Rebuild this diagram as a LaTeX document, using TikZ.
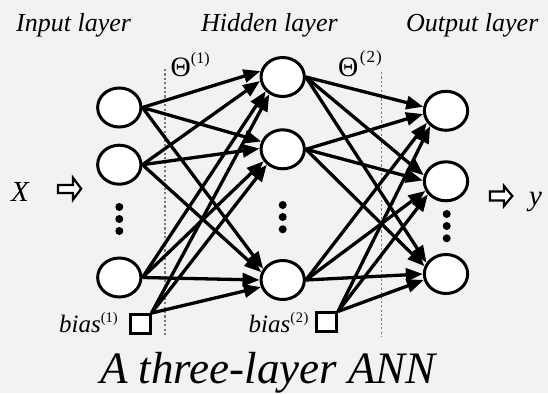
\documentclass[tikz,border=0pt]{standalone}
\usepackage{fontspec}
\setmainfont{Liberation Serif}
\usetikzlibrary{arrows.meta,shapes.geometric}
\definecolor{bg}{RGB}{242,242,242}
\definecolor{guide}{RGB}{120,120,120}

\begin{document}
\begin{tikzpicture}[x=1pt,y=-1pt,
  neuron/.style={ellipse,draw,fill=white,line width=3pt,minimum width=43.3pt,minimum height=39pt,inner sep=0pt},
  biasbox/.style={rectangle,draw,fill=white,line width=3pt,minimum width=20pt,minimum height=18.5pt,inner sep=0pt},
  wire/.style={line width=3.3pt,-{Triangle[length=17pt,width=13pt]}},
  guideline/.style={guide,line width=1.3pt,dash pattern=on 2.2pt off 2.2pt},
  dot/.style={circle,fill=black,inner sep=0pt,minimum size=8pt},
  hollow/.style={draw,line width=2.2pt,fill=white,line join=miter},
  lbl/.style={font=\fontsize{26}{26}\selectfont\itshape,anchor=base west,inner sep=0pt},
  sup/.style={anchor=base west,inner sep=0pt},
]
% canvas
\fill[bg] (0,0) rectangle (548,393);
\useasboundingbox (0,0) rectangle (548,393);

% layer titles
\node[lbl] (tin)  at (16,31.7)  {Input layer};
\node[lbl] (thid) at (201,31.7) {Hidden layer};
\node[lbl] (tout) at (406,31.7) {Output layer};

% weight separators
\draw[guideline] (165,69) -- (165,335);
\draw[guideline] (381.7,72) -- (381.7,337);

% weight labels
\node[sup] (th1) at (170.5,76.5) {\fontsize{28}{28}\selectfont Θ\raisebox{12.5pt}{\fontsize{16}{16}\selectfont (1)}};
\node[sup] (th2) at (338,76.5) {\fontsize{28}{28}\selectfont Θ\kern1.5pt\raisebox{13.5pt}{\fontsize{17}{17}\selectfont (\kern1pt2\kern1pt)}};

% neurons
\node[neuron] (in1)  at (119.3,107.5) {};
\node[neuron] (in2)  at (119.3,164.7) {};
\node[neuron] (inN)  at (119.3,277.5) {};
\node[neuron] (hid1) at (282.7,77)    {};
\node[neuron] (hid2) at (282.7,149.3) {};
\node[neuron] (hidN) at (282.7,280)   {};
\node[neuron] (out1) at (446,110.8)   {};
\node[neuron] (out2) at (446,181.3)   {};
\node[neuron] (outN) at (446,274)     {};

% bias units
\node[biasbox] (b1) at (140,323.8) {};
\node[biasbox] (b2) at (326.5,322.2) {};
\node[font=\fontsize{25}{25}\selectfont\itshape,anchor=base west,inner sep=0pt] (lb1) at (59,332.7)
  {bias\raisebox{10.7pt}{\upshape\fontsize{14.5}{14.5}\selectfont (1)}};
\node[font=\fontsize{25}{25}\selectfont\itshape,anchor=base west,inner sep=0pt] (lb2) at (248.5,332.7)
  {bias\raisebox{10.7pt}{\upshape\fontsize{14.5}{14.5}\selectfont (\kern0.6pt2\kern0.6pt)}};

% ellipsis dots
\foreach \yy [count=\k] in {207,219,231} \node[dot] (di\k) at (119.3,\yy) {};
\foreach \yy [count=\k] in {205,217,229.3} \node[dot] (dh\k) at (282.7,\yy) {};
\foreach \yy [count=\k] in {214,226,238.3} \node[dot] (do\k) at (446.7,\yy) {};

% input -> hidden weights
\draw[wire] (in1.east) -- (hid1.165);
\draw[wire] (in2.east) -- (hid1.190);
\draw[wire] (inN.east) -- (hid1.220);
\draw[wire] (b1.north east) -- (hid1.232);
\draw[wire] (in1.east) -- (hid2.160);
\draw[wire] (in2.east) -- (hid2.178);
\draw[wire] (inN.east) -- (hid2.212);
\draw[wire] (b1.north east) -- (hid2.224);
\draw[wire] (in1.east) -- (hidN.150);
\draw[wire] (in2.east) -- (hidN.160);
\draw[wire] (inN.east) -- (hidN.180);
\draw[wire] (b1.north east) -- (hidN.198);

% hidden -> output weights
\draw[wire] (hid1.east) -- (out1.170);
\draw[wire] (hid2.east) -- (out1.188);
\draw[wire] (hidN.east) -- (out1.212);
\draw[wire] (b2.north east) -- (out1.224);
\draw[wire] (hid1.east) -- (out2.165);
\draw[wire] (hid2.east) -- (out2.178);
\draw[wire] (hidN.east) -- (out2.205);
\draw[wire] (b2.north east) -- (out2.216);
\draw[wire] (hid1.east) -- (outN.150);
\draw[wire] (hid2.east) -- (outN.160);
\draw[wire] (hidN.east) -- (outN.180);
\draw[wire] (b2.north east) -- (outN.195);

% input / output markers
\node[font=\fontsize{29}{29}\selectfont\itshape,anchor=base west,inner sep=0pt] (xl) at (11,201.7) {X};
\draw[hollow] (58,185) -- (73,185) -- (73,177.8) -- (81.2,188.7) -- (73,199.6) -- (73,193) -- (58,193) -- cycle;
\draw[hollow] (490,191.5) -- (504,191.5) -- (504,186) -- (512.3,196) -- (504,206) -- (504,200.5) -- (490,200.5) -- cycle;
\node[font=\fontsize{29}{29}\selectfont\itshape,anchor=base west,inner sep=0pt] (yl) at (529,205.5) {y};

% caption
\node[font=\fontsize{45}{45}\selectfont\itshape,anchor=base west,inner sep=0pt] (cap) at (100,383.5) {A three-layer ANN};
\end{tikzpicture}
\end{document}
